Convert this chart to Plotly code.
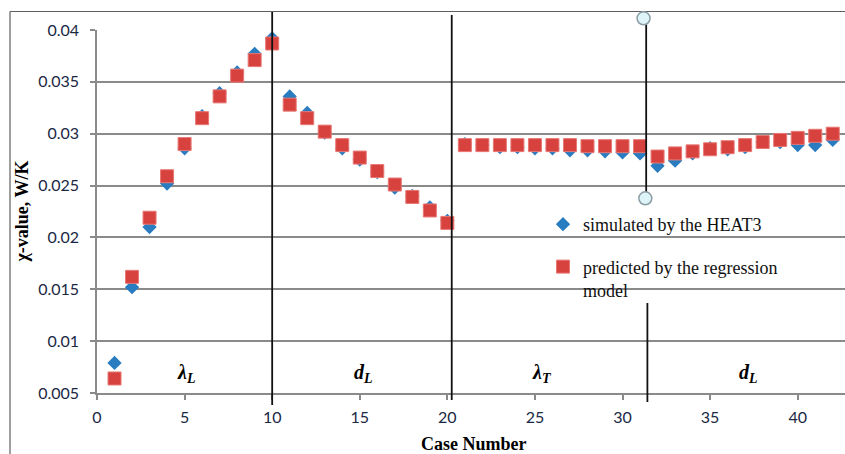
import plotly.graph_objects as go

# ---- data -----------------------------------------------------------------
case_no = list(range(1, 43))

chi_simulated = [
    0.0079, 0.0152, 0.0210, 0.0252, 0.0286, 0.0317, 0.0339, 0.0359, 0.0377, 0.0392,
    0.0336, 0.0320, 0.0301, 0.0286, 0.0275, 0.0263, 0.0248, 0.0240, 0.0229, 0.0216,
    0.0290, 0.0289, 0.0287, 0.0287, 0.0286, 0.0286, 0.0284, 0.0284, 0.0283, 0.0282,
    0.0281, 0.0269, 0.0274, 0.0281, 0.0286, 0.0285, 0.0287, 0.0292, 0.0292, 0.0289,
    0.0289, 0.0294,
]

chi_predicted = [
    0.0064, 0.0162, 0.0219, 0.0259, 0.0290, 0.0315, 0.0336, 0.0356, 0.0371, 0.0387,
    0.0328, 0.0315, 0.0302, 0.0289, 0.0277, 0.0264, 0.0251, 0.0239, 0.0226, 0.0214,
    0.0289, 0.0289, 0.0289, 0.0289, 0.0289, 0.0289, 0.0289, 0.0288, 0.0288, 0.0288,
    0.0288, 0.0278, 0.0281, 0.0283, 0.0285, 0.0287, 0.0289, 0.0292, 0.0294, 0.0296,
    0.0298, 0.0300,
]

y_tick_vals = [0.005, 0.01, 0.015, 0.02, 0.025, 0.03, 0.035, 0.04]
y_tick_text = ["0.005", "0.01", "0.015", "0.02", "0.025", "0.03", "0.035", "0.04"]
x_tick_vals = [0, 5, 10, 15, 20, 25, 30, 35, 40]

# parameter varied in each block of cases
section_text = ["λ<sub>L</sub>", "d<sub>L</sub>", "λ<sub>T</sub>", "d<sub>L</sub>"]
section_x = [5.1, 15.2, 25.4, 37.2]

# ---- geometry helpers -----------------------------------------------------
W, H = 845, 454
ML, MR, MT, MB = 97, 0, 30, 61
PW, PH = W - ML - MR, H - MT - MB


def px_x(p):
    return (p - ML) / PW


def px_y(p):
    return (H - MB - p) / PH


BLUE = "#2A7CC1"
RED = "#D7423E"
GRID = "#8A8A8A"
TICKFONT = dict(family="Lato", size=16, color="#1a2844")
SERIF = "Liberation Serif"

fig = go.Figure()

fig.add_trace(go.Scatter(
    x=case_no, y=chi_simulated, mode="markers",
    name="simulated by the HEAT3", legendgroup="a",
    marker=dict(symbol="diamond", size=11, color=BLUE, line=dict(width=0)),
))
fig.add_trace(go.Scatter(
    x=case_no, y=chi_predicted, mode="markers",
    name="predicted by the regression<br>model", legendgroup="b",
    marker=dict(symbol="square", size=13, color=RED, line=dict(width=1, color="#E87874")),
))

shapes = []

# outer frame (left and top edges)
shapes.append(dict(type="line", xref="paper", yref="paper",
                   x0=px_x(10), x1=px_x(10), y0=px_y(470), y1=px_y(11.5),
                   line=dict(color="#5f5f5f", width=1.2), layer="above"))
shapes.append(dict(type="line", xref="paper", yref="paper",
                   x0=px_x(10), x1=px_x(860), y0=px_y(11.5), y1=px_y(11.5),
                   line=dict(color="#5f5f5f", width=1.2), layer="above"))

# white panel behind the legend, hiding the gridlines there
shapes.append(dict(type="rect", xref="paper", yref="paper",
                   x0=px_x(545), x1=px_x(810), y0=px_y(301), y1=px_y(200),
                   fillcolor="white", line=dict(width=0), layer="between"))

# separators between parameter blocks
sep_lines = [(10.0, 12, 405), (20.25, 15, 400), (31.35, 18, 198), (31.42, 303, 402)]
for xv, top, bot in sep_lines:
    shapes.append(dict(type="line", xref="x", yref="paper",
                       x0=xv, x1=xv, y0=px_y(bot), y1=px_y(top),
                       line=dict(color="#111111", width=1.8), layer="above"))

# end handles of the upper separator
for xv, yc in [(31.2, 18.3), (31.3, 198.3)]:
    shapes.append(dict(type="circle", xref="x", yref="paper",
                       xsizemode="pixel", ysizemode="pixel",
                       xanchor=xv, yanchor=px_y(yc),
                       x0=-6.5, x1=6.5, y0=-6.5, y1=6.5,
                       fillcolor="#DDF4F8", line=dict(color="#8c9ca4", width=1.5),
                       layer="above"))

annotations = []
for txt, xv in zip(section_text, section_x):
    annotations.append(dict(x=xv, y=px_y(373), xref="x", yref="paper",
                            text=f"<b><i>{txt}</i></b>", showarrow=False,
                            font=dict(family=SERIF, size=20, color="black"),
                            xanchor="center", yanchor="middle"))

annotations.append(dict(x=px_x(474), y=px_y(444), xref="paper", yref="paper",
                        text="<b>Case Number</b>", showarrow=False,
                        font=dict(family=SERIF, size=18, color="black"),
                        xanchor="center", yanchor="middle"))
annotations.append(dict(x=px_x(21.5), y=px_y(212), xref="paper", yref="paper",
                        text="<b>χ-value, W/K</b>", showarrow=False, textangle=-90,
                        font=dict(family=SERIF, size=18, color="black"),
                        xanchor="center", yanchor="middle"))

fig.update_layout(
    width=W, height=H,
    margin=dict(l=ML, r=MR, t=MT, b=MB, autoexpand=False),
    paper_bgcolor="white", plot_bgcolor="white",
    shapes=shapes, annotations=annotations,
    showlegend=True,
    legend=dict(
        x=px_x(543), y=px_y(206), xanchor="left", yanchor="top",
        bgcolor="rgba(0,0,0,0)", borderwidth=0,
        font=dict(family=SERIF, size=18, color="#111111"),
        tracegroupgap=16, valign="top",
    ),
)

fig.update_xaxes(
    range=[0, 42.7], tickmode="array", tickvals=x_tick_vals,
    showgrid=False, zeroline=False,
    showline=True, linecolor=GRID, linewidth=1.5,
    ticks="outside", ticklen=5, tickcolor=GRID, tickwidth=1.5,
    tickfont=TICKFONT, ticklabelstandoff=4,
)
fig.update_yaxes(
    range=[0.005, 0.04], tickmode="array", tickvals=y_tick_vals, ticktext=y_tick_text,
    showgrid=True, gridcolor=GRID, gridwidth=1.5, zeroline=False,
    showline=True, linecolor=GRID, linewidth=1.5,
    ticks="outside", ticklen=5, tickcolor=GRID, tickwidth=1.5,
    tickfont=TICKFONT, ticklabelstandoff=8,
)

fig.write_html("out.html")
